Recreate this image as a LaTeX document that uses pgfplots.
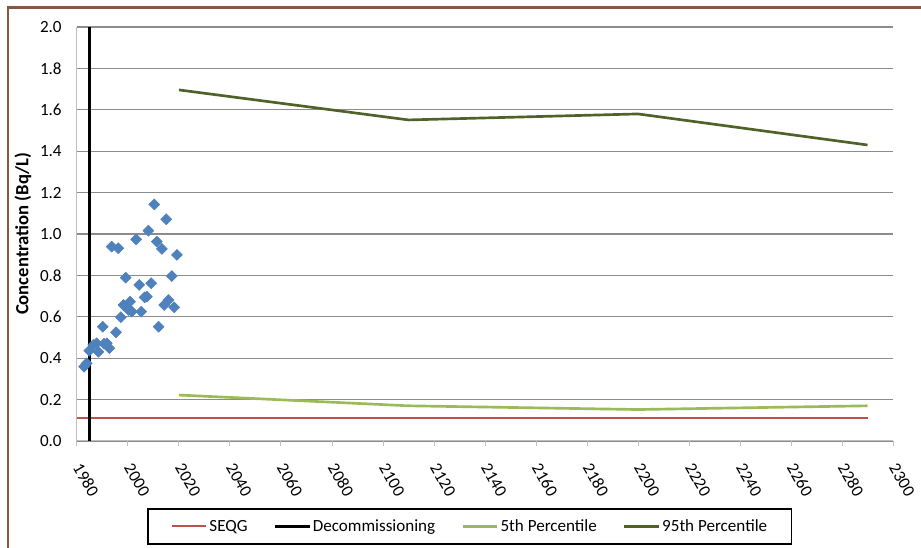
\documentclass[border=0pt]{standalone}
\usepackage{fontspec}
\setmainfont{Carlito}
\usepackage{pgfplots}
\pgfplotsset{compat=1.18}
\definecolor{ptblue}{RGB}{79,129,189}
\definecolor{seqgred}{RGB}{192,80,77}
\definecolor{pfive}{RGB}{155,187,89}
\definecolor{pninefive}{RGB}{79,98,40}
\definecolor{gridgray}{RGB}{140,140,140}
\definecolor{axisgray}{RGB}{190,190,190}
\definecolor{framebrown}{RGB}{137,87,61}
\newcommand{\chartfont}{\fontsize{12.8}{15}\selectfont}
\begin{document}
\begin{tikzpicture}
\path[use as bounding box] (-57.75pt,-80.25pt) rectangle (633pt,330.75pt);
\draw[framebrown, line width=1.6pt] (-52pt,-100pt) rectangle (660pt,325.1pt);
\begin{axis}[
	scale only axis,
	width=612pt, height=310.5pt,
	xmin=1980, xmax=2300, ymin=0, ymax=2,
	xtick={1980,2000,...,2300},
	ytick={0,0.2,0.4,0.6,0.8,1.0,1.2,1.4,1.6,1.8,2.0},
	axis x line=bottom, axis y line=left,
	axis line style={draw=axisgray, line width=0.75pt, -},
	ymajorgrids, grid style={gridgray, line width=1pt},
	tick align=outside, major tick length=4pt,
	xtick style={axisgray, line width=0.75pt},
	ytick style={draw=none},
	/pgf/number format/assume math mode=true,
	ticklabel style={font=\chartfont},
	x tick label style={yshift=-11pt, xshift=-1.5pt, rotate=-60, anchor=west, /pgf/number format/1000 sep={}},
	y tick label style={xshift=-4pt, /pgf/number format/.cd, fixed, fixed zerofill, precision=1},
	ylabel={\textbf{Concentration (Bq/L)}},
	every axis y label/.style={at={(axis description cs:-0.0662,0.5)}, anchor=center, rotate=90, font=\fontsize{14}{16}\selectfont},
	legend columns=4,
	legend style={at={(axis description cs:0.4816,-0.2065)}, anchor=center,
		draw=black, line width=1pt, font=\chartfont,
		inner xsep=17pt, inner ysep=6pt,
		nodes={inner xsep=1.5pt},
		/tikz/every even column/.append style={column sep=18pt}},
	legend image code/.code={\draw[#1] (0pt,0pt) -- (26pt,0pt);},
]
% measured concentrations
\addplot[only marks, mark=square*, mark size=2.9pt, mark options={rotate=45, ptblue, draw=ptblue}, forget plot] coordinates {
(1982.8,0.359) (1983.8,0.375) (1984.8,0.436) (1986.4,0.464) (1987.7,0.472)
(1988.4,0.431) (1990.1,0.552) (1990.6,0.470) (1991.7,0.472) (1992.7,0.448)
(1993.6,0.939) (1996.2,0.931) (1995.3,0.525) (1997.2,0.598) (1998.2,0.657)
(1999.1,0.789) (2000.8,0.673) (2000.2,0.633) (2001.5,0.625) (2003.2,0.974)
(2004.4,0.754) (2005.2,0.625) (2006.5,0.694) (2007.4,0.697) (2008.0,1.016)
(2009.1,0.762) (2010.3,1.143) (2011.3,0.963) (2012.0,0.552) (2013.3,0.928)
(2014.2,0.657) (2015.0,1.071) (2015.9,0.681) (2017.2,0.797) (2018.1,0.646)
(2019.2,0.899)
};
\addplot[seqgred, line width=1.5pt] coordinates {(1980,0.111) (2290,0.111)};
\addlegendentry{SEQG}
\addplot[black, line width=1.9pt] coordinates {(1985,0) (1985,2.0)};
\addlegendentry{Decommissioning}
\addplot[pfive, line width=2pt] coordinates {(2020,0.222) (2110,0.170) (2200,0.152) (2290,0.170)};
\addlegendentry{5th Percentile}
\addplot[pninefive, line width=2pt] coordinates {(2020,1.696) (2110,1.551) (2200,1.580) (2290,1.430)};
\addlegendentry{95th Percentile}
\end{axis}
\end{tikzpicture}
\end{document}
